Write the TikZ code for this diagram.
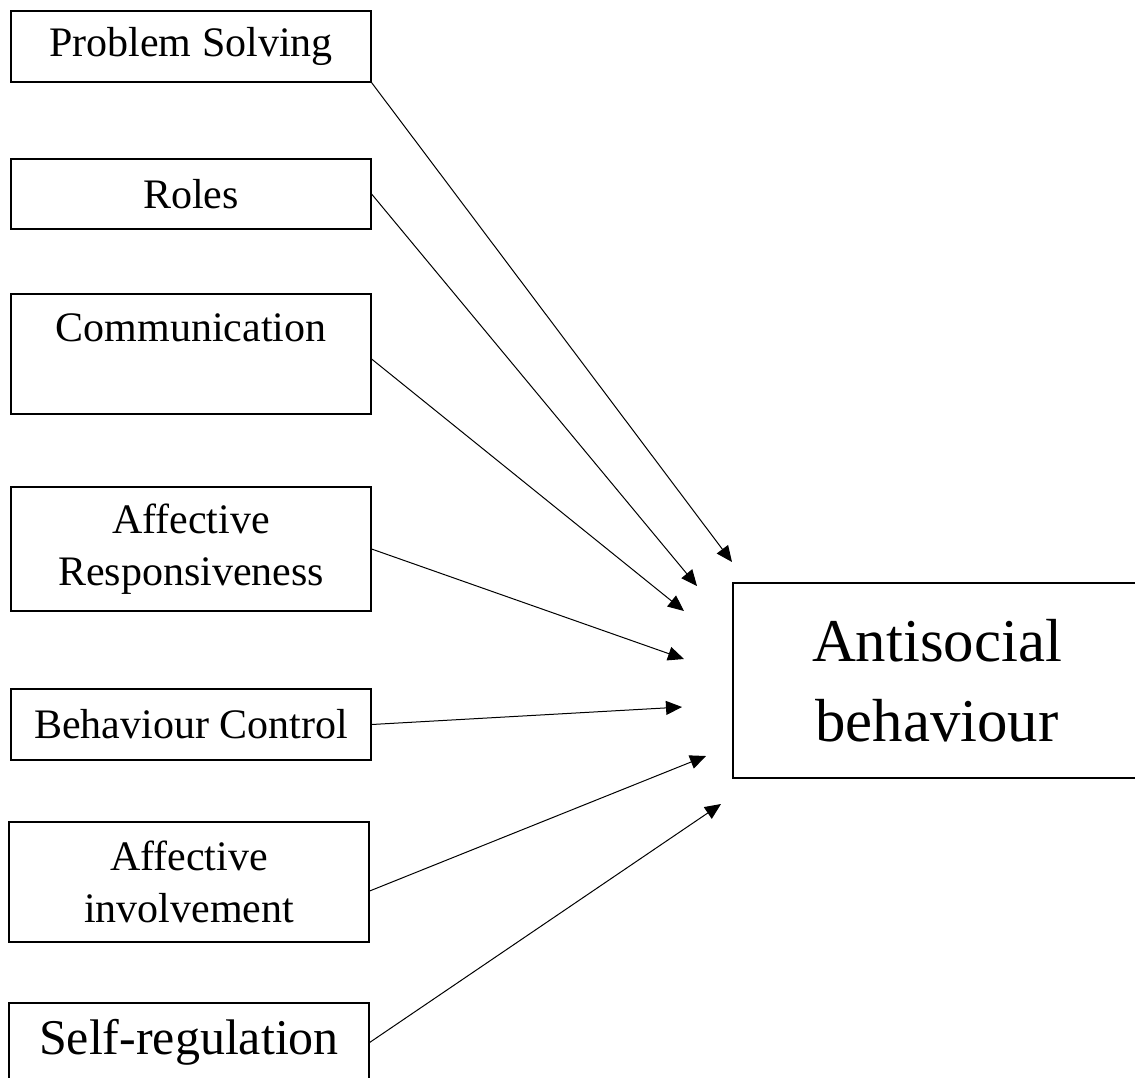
\documentclass[tikz,border=0pt]{standalone}
\usepackage{fontspec}
\setmainfont{Liberation Serif}
\usetikzlibrary{arrows.meta}

\begin{document}
\begin{tikzpicture}[x=0.5pt,y=-0.5pt,>={Triangle[length=8pt,width=7pt]},
  factor/.style={draw,line width=0.6pt,minimum width=180pt,inner sep=0pt,
    align=center,font=\fontsize{21}{26}\selectfont},
  outcome/.style={draw,line width=0.6pt,minimum width=204pt,minimum height=97.5pt,
    inner sep=0pt,align=center,font=\fontsize{30.4}{40}\selectfont},
  link/.style={->,line width=0.5pt}]
\useasboundingbox (0,0) rectangle (1135,1077);
% predictors
\node[factor,minimum height=35.5pt] (ps) at (191,46.5) {Problem Solving};
\node[factor,minimum height=35pt] (roles) at (191,194) {Roles};
\node[factor,minimum height=60pt] (comm) at (191,354) {Communication\\\mbox{}};
\node[factor,minimum height=62pt] (resp) at (191,549) {Affective\\Responsiveness};
\node[factor,minimum height=35.5pt] (ctrl) at (191,724.5) {Behaviour Control};
\node[factor,minimum height=60pt] (inv) at (189,882) {Affective\\involvement};
\node[factor,minimum height=39.5pt,font=\fontsize{25}{30}\selectfont] (selfreg) at (189,1042.5) {Self-regulation};
% outcome
\node[outcome] (anti) at (937,680.5) {Antisocial\\behaviour};
% arrow ends
\coordinate (t1) at (732,562);
\coordinate (t2) at (697,586);
\coordinate (t3) at (684,611);
\coordinate (t4) at (684,659);
\coordinate (t5) at (682,707);
\coordinate (t6) at (706,756);
\coordinate (t7) at (721,804);
\draw[link] (ps.south east) -- (t1);
\draw[link] (roles.east) -- (t2);
\draw[link] ([yshift=-2.5pt]comm.east) -- (t3);
\draw[link] (resp.east) -- (t4);
\draw[link] (ctrl.east) -- (t5);
\draw[link] ([yshift=-4.5pt]inv.east) -- (t6);
\draw[link] (selfreg.east) -- (t7);
\end{tikzpicture}
\end{document}
